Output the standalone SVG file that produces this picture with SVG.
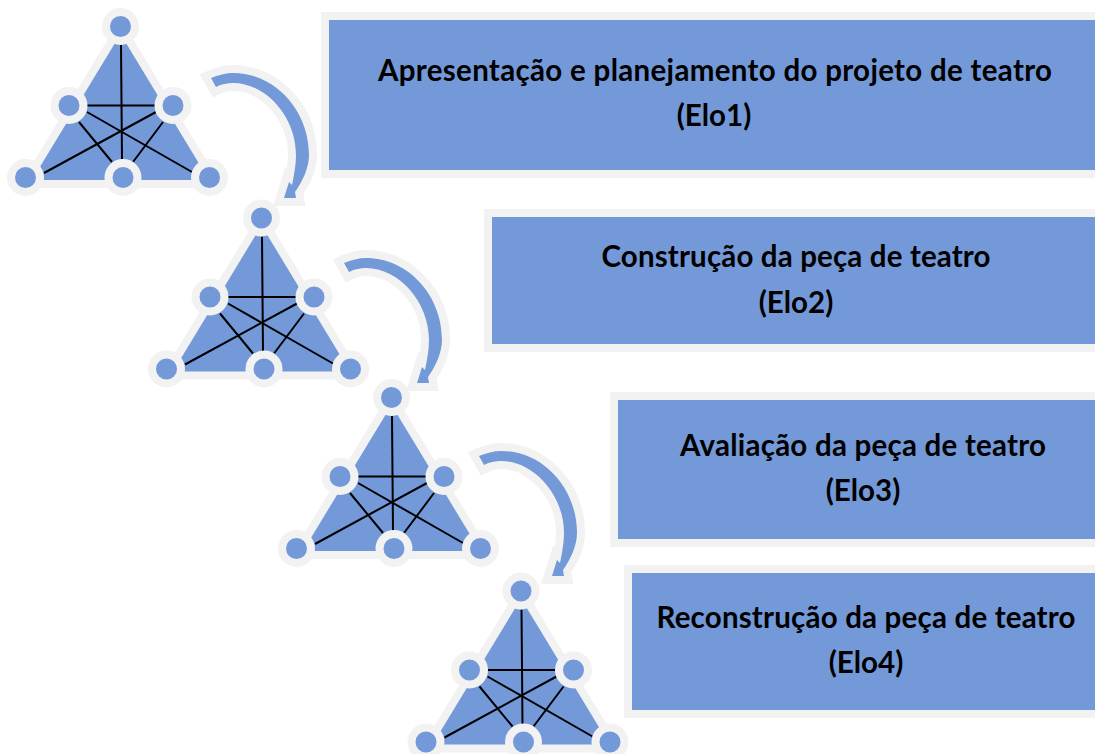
<svg xmlns="http://www.w3.org/2000/svg" width="1095" height="754" viewBox="0 0 1095 754">
<style>
.box{fill:#7499d9;stroke:#f2f2f2;stroke-width:8}
.tri{fill:#7499d9;stroke:#f2f2f2;stroke-width:16;paint-order:stroke;stroke-linejoin:round}
.dot{fill:#7499d9;stroke:#f2f2f2;stroke-width:8}
.ln{stroke:#000;stroke-width:2;fill:none}
.arr{fill:#7499d9;stroke:#f2f2f2;stroke-width:16;paint-order:stroke;stroke-linejoin:miter;stroke-miterlimit:6}
text{font-family:"Lato","Liberation Sans",sans-serif;font-weight:700;font-size:29.500px;fill:#000;text-anchor:middle}
</style>
<defs>
<g id="t">
<path class="tri" d="M120.500,34 L32,180 L209,180Z"/>
<path class="ln" d="M121,45 L122,160 M87,105.500 L155,105.500 M87,112 L192,172 M156,112 L44,173 M79,122 L112,162 M163,122 L133,162"/>
<circle class="dot" cx="120.500" cy="26.500" r="14.500"/>
<circle class="dot" cx="69" cy="105.500" r="14.500"/>
<circle class="dot" cx="173" cy="105.500" r="14.500"/>
<circle class="dot" cx="25.500" cy="177.500" r="14.500"/>
<circle class="dot" cx="123" cy="177.500" r="14.500"/>
<circle class="dot" cx="209.500" cy="177.500" r="14.500"/>
</g>
<path id="a" class="arr" d="M211,78 C218,75 226,73 233,73 C275,73 309,110 309,155 C309,167 303,181 295,192 L296,198 L284,198 L289,182 L292,185 C294,175 296,165 296,155 C296,117 266,83 233,83 C227,83 222,84 216,87Z"/>
</defs>
<g id="boxes">
<rect id="box1" class="box" x="325" y="16" width="780" height="158"/>
<rect id="box2" class="box" x="488" y="213" width="620" height="135"/>
<rect id="box3" class="box" x="614" y="396" width="490" height="147"/>
<rect id="box4" class="box" x="628" y="569" width="480" height="145"/>
</g>
<g id="connectors">
<use href="#a"/>
<use href="#a" x="133" y="185"/>
<use href="#a" x="268" y="378"/>
</g>
<g id="node1"><use href="#t"/></g>
<g id="node2"><use href="#t" x="141" y="191.500"/></g>
<g id="node3"><use href="#t" x="271" y="371"/></g>
<g id="node4"><use href="#t" x="400.500" y="564.500"/></g>
<g id="labels">
<text x="715" y="81" textLength="674">Apresentação e planejamento do projeto de teatro</text>
<text x="714" y="126">(Elo1)</text>
<text x="796" y="267" textLength="389">Construção da peça de teatro</text>
<text x="796" y="313">(Elo2)</text>
<text x="863" y="456" textLength="366">Avaliação da peça de teatro</text>
<text x="863" y="501">(Elo3)</text>
<text x="866" y="628" textLength="419">Reconstrução da peça de teatro</text>
<text x="866" y="673">(Elo4)</text>
</g>
</svg>
